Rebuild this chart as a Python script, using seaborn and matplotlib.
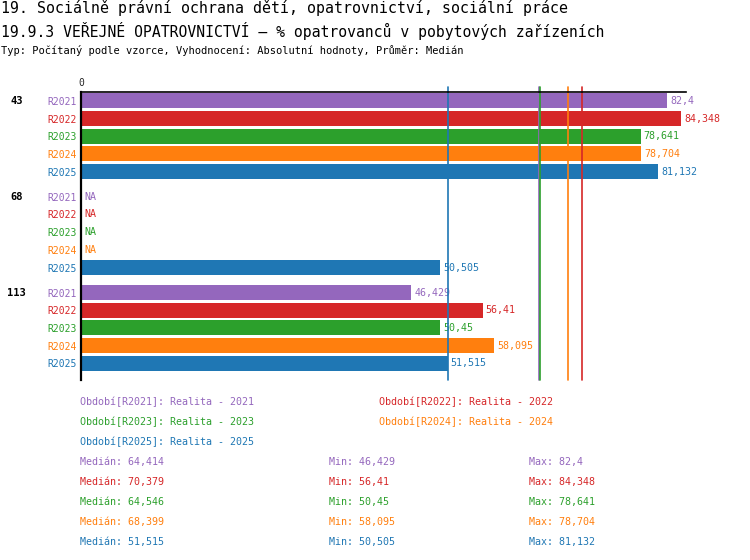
import numpy as np
import pandas as pd
import matplotlib
matplotlib.use("Agg")
import matplotlib.pyplot as plt
import seaborn as sns

# ---- data ----
groups = ["43", "68", "113"]
periods = ["R2021", "R2022", "R2023", "R2024", "R2025"]
period_names = ["Realita - 2021", "Realita - 2022", "Realita - 2023", "Realita - 2024", "Realita - 2025"]
R2021 = [82.4, np.nan, 46.429]
R2022 = [84.348, np.nan, 56.41]
R2023 = [78.641, np.nan, 50.45]
R2024 = [78.704, np.nan, 58.095]
R2025 = [81.132, 50.505, 51.515]
medians = [64.414, 70.379, 64.546, 68.399, 51.515]
mins = [46.429, 56.41, 50.45, 58.095, 50.505]
maxs = [82.4, 84.348, 78.641, 78.704, 81.132]
colors = ["#9467bd", "#d62728", "#2ca02c", "#ff7f0e", "#1f77b4"]

series = [R2021, R2022, R2023, R2024, R2025]

GROUP_STEP = 5.415
rows = []
for gi, g in enumerate(groups):
    for pi, p in enumerate(periods):
        rows.append({"group": g, "period": p, "value": series[pi][gi],
                     "ypos": gi * GROUP_STEP + pi})
df = pd.DataFrame(rows)

def fmt(v):
    s = f"{v:.3f}".rstrip("0").rstrip(".")
    return s.replace(".", ",")

sns.set_theme(style="white")
plt.rcParams["font.family"] = ["DejaVu Sans Mono", "DejaVu Sans"]

W, H = 750, 560
fig = plt.figure(figsize=(W / 100, H / 100), dpi=100)
ax = fig.add_axes([81 / W, 1 - 380 / H, 605 / W, 288 / H])

dfv = df.dropna(subset=["value"])
sns.barplot(data=dfv, x="value", y="ypos", hue="period", hue_order=periods,
            palette=colors, orient="h", native_scale=True, dodge=False,
            width=0.85, saturation=1, errorbar=None, legend=False,
            linewidth=0, ax=ax)

ax.set_xlim(0, 85)
ax.set_ylim(14 + 2 * (GROUP_STEP - 5) + 0.94, -0.5)

# median lines
for m, c in zip(medians, colors):
    ax.axvline(m, ymin=0, ymax=1.018, color=c, lw=1.2, zorder=5, clip_on=False)

# spines / ticks
for side in ["right", "bottom"]:
    ax.spines[side].set_visible(False)
ax.spines["left"].set_color("black")
ax.spines["left"].set_linewidth(1.6)
ax.spines["top"].set_color("black")
ax.spines["top"].set_linewidth(1.2)
ax.spines["left"].set_zorder(6)
ax.spines["top"].set_zorder(6)
ax.xaxis.tick_top()
ax.set_xticks([0])
ax.set_xticklabels(["0"])
ax.tick_params(axis="x", length=0, pad=3, labelsize=7)
ax.set_xlabel("")
ax.set_ylabel("")
ax.grid(False)

ax.set_yticks(df["ypos"])
ax.set_yticklabels(df["period"])
ax.tick_params(axis="y", length=0, pad=3, labelsize=7)
for lbl, p in zip(ax.get_yticklabels(), df["period"]):
    lbl.set_color(colors[periods.index(p)])

# value labels
for _, r in df.iterrows():
    c = colors[periods.index(r["period"])]
    if np.isnan(r["value"]):
        ax.annotate("NA", (0, r["ypos"]), xytext=(2.2, 0), textcoords="offset points",
                    va="center", ha="left", color=c, fontsize=7.2)
    else:
        ax.annotate(fmt(r["value"]), (r["value"], r["ypos"]), xytext=(2.2, 0),
                    textcoords="offset points", va="center", ha="left", color=c,
                    fontsize=7.2)

# group labels
for gi, g in enumerate(groups):
    ax.annotate(g, (16.5 / W, gi * GROUP_STEP), xycoords=("figure fraction", "data"),
                ha="center", va="center", fontsize=7.5, fontweight="bold", color="black")

# titles
fig.text(1 / W, 1 - 8.5 / H, "19. Sociálně právní ochrana dětí, opatrovnictví, sociální práce",
         ha="left", va="center", fontsize=10.7, color="black")
fig.text(1 / W, 1 - 30.5 / H, "19.9.3 VEŘEJNÉ OPATROVNICTVÍ – % opatrovanců v pobytových zařízeních",
         ha="left", va="center", fontsize=10.6, color="black")
fig.text(1 / W, 1 - 51 / H, "Typ: Počítaný podle vzorce, Vyhodnocení: Absolutní hodnoty, Průměr: Medián",
         ha="left", va="center", fontsize=7.45, color="black")

# legend
leg_pos = [(80, 402), (379, 402), (80, 422), (379, 422), (80, 442)]
for (x, y), p, n, c in zip(leg_pos, periods, period_names, colors):
    fig.text(x / W, 1 - y / H, f"Období[{p}]: {n}", ha="left", va="center",
             fontsize=7.2, color=c)

# stats
for i, c in enumerate(colors):
    y = 462 + 20 * i
    fig.text(80 / W, 1 - y / H, f"Medián: {fmt(medians[i])}", ha="left", va="center", fontsize=7.2, color=c)
    fig.text(329 / W, 1 - y / H, f"Min: {fmt(mins[i])}", ha="left", va="center", fontsize=7.2, color=c)
    fig.text(529 / W, 1 - y / H, f"Max: {fmt(maxs[i])}", ha="left", va="center", fontsize=7.2, color=c)

fig.savefig("out.png", dpi=100, facecolor="white")
